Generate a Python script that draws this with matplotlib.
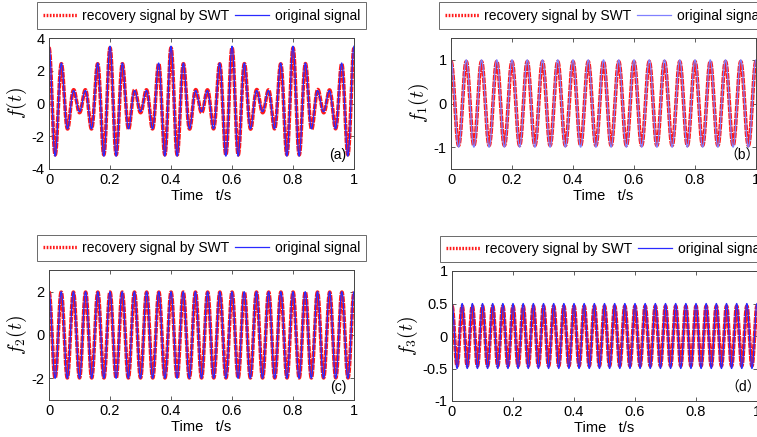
import numpy as np
import matplotlib.pyplot as plt
from matplotlib.lines import Line2D

plt.rcParams['font.family'] = ['Liberation Sans', 'Noto Sans CJK SC', 'DejaVu Sans']
plt.rcParams['mathtext.fontset'] = 'cm'

# signal components: f1, f2, f3
freqs = [20.0, 25.0, 30.0]
amps = [1.0, 2.0, 0.5]
# components recovered by SWT
rec_freqs = [20.0, 24.992, 30.0]
rec_amps = [0.96, 1.98, 0.46]

panel_tags = ['(a)', '\uff08b\uff09', '(c)', '\uff08d\uff09']
ylabels = [r'$f(t)$', r'$f_1(t)$', r'$f_2(t)$', r'$f_3(t)$']
ylims = [(-4, 4), (-1.5, 1.5), (-3, 3), (-1, 1)]
yticks = [[-4, -2, 0, 2, 4], [-1, 0, 1], [-2, 0, 2], [-1, -0.5, 0, 0.5, 1]]
yticklabels = [['-4', '-2', '0', '2', '4'], ['-1', '0', '1'], ['-2', '0', '2'],
               ['-1', '-0.5', '0', '0.5', '1']]
xticks = [0, 0.2, 0.4, 0.6, 0.8, 1.0]
xticklabels = ['0', '0.2', '0.4', '0.6', '0.8', '1']

t = np.linspace(0, 1, 4001)
orig = [a * np.cos(2 * np.pi * f * t) for f, a in zip(freqs, amps)]
rec = [a * np.cos(2 * np.pi * f * t) for f, a in zip(rec_freqs, rec_amps)]
orig_series = [sum(orig)] + orig
rec_series = [sum(rec)] + rec

W, H = 757, 437
boxes = [(49, 38, 305, 131), (451, 38, 305, 131),
         (49, 270, 305, 130), (452, 271, 305, 130)]
tag_x = [0.975, 1.012, 0.975, 1.012]

fig = plt.figure(figsize=(W / 100, H / 100), dpi=100)
for i, (x0, y0, w, h) in enumerate(boxes):
    ax = fig.add_axes([x0 / W, 1 - (y0 + h) / H, w / W, h / H])
    red = '#ff1a1a'
    blue = '#8080ff' if i == 1 else '#2a2aff'
    ax.plot(t, rec_series[i], color=red, lw=2.6, dashes=(1.6, 0.25))
    ax.plot(t, orig_series[i], color=blue, lw=0.9)
    ax.set_xlim(0, 1)
    ax.set_ylim(*ylims[i])
    ax.set_xticks(xticks)
    ax.set_xticklabels(xticklabels)
    ax.set_yticks(yticks[i])
    ax.set_yticklabels(yticklabels[i])
    ax.tick_params(direction='in', top=True, right=True, labelsize=10.5,
                   length=3, width=0.6, color='#444444', pad=3)
    for s in ax.spines.values():
        s.set_color('#444444')
        s.set_linewidth(0.7)
    ax.set_xlabel('Time   t/s', fontsize=10.5, labelpad=1)
    ax.set_ylabel(ylabels[i], fontsize=14, labelpad=2)
    ax.text(tag_x[i], 0.05, panel_tags[i], transform=ax.transAxes,
            ha='right', va='bottom', fontsize=10, clip_on=False)

    handles = [Line2D([], [], color=red, lw=2.4, dashes=(0.5, 0.45)),
               Line2D([], [], color=blue, lw=0.9)]
    leg = ax.legend(handles, ['recovery signal by SWT', 'original signal'],
                    loc='lower center', bbox_to_anchor=(0.5, 1.069), ncol=2,
                    fontsize=10, frameon=True, fancybox=False,
                    handlelength=2.45, handletextpad=0.4, columnspacing=0.4,
                    borderpad=0.45, borderaxespad=0)
    leg.get_frame().set_edgecolor('#444444')
    leg.get_frame().set_linewidth(0.7)

fig.savefig('out.png', dpi=100)
